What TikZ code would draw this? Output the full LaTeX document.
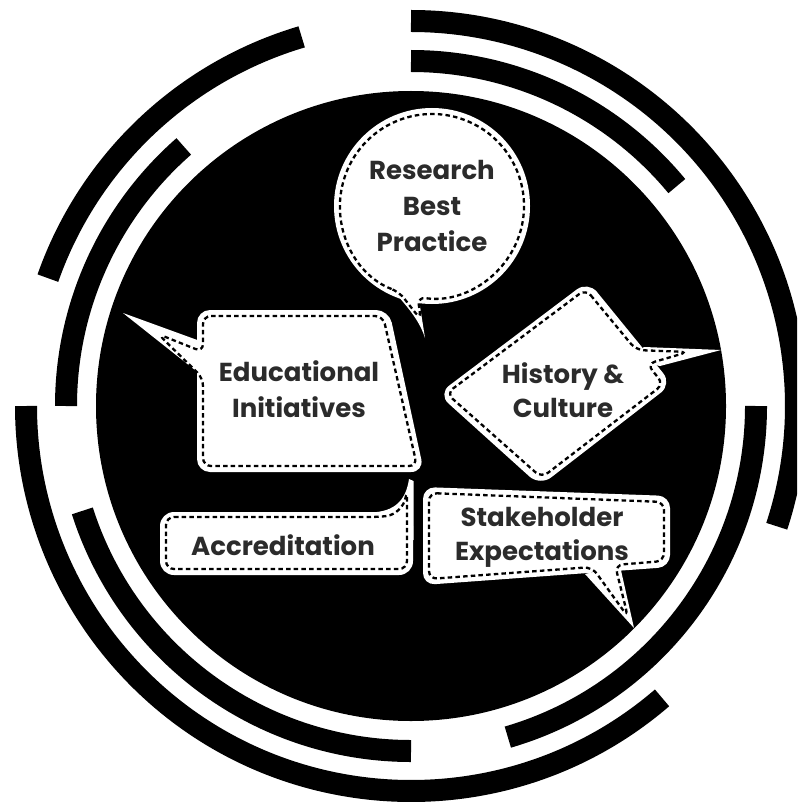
\documentclass[tikz,border=0pt]{standalone}
\usepackage{fontspec}
\setmainfont{Poppins}
\definecolor{txt}{HTML}{2B2B2B}
\tikzset{
  ringarc/.style={line width=22pt, line cap=butt, draw=black},
  bubblefill/.style={fill=white, draw=none},
  dashline/.style={draw=black, line width=2.3pt, dash pattern=on 4.5pt off 3.2pt, rounded corners=8pt},
  bubbletext/.style={font=\bfseries\fontsize{26}{36}\selectfont, text=txt, align=center, inner sep=0pt}
}
\begin{document}
\begin{tikzpicture}[x=1pt,y=-1pt]
\path[use as bounding box] (0,0) rectangle (797,802);
\clip (0,0) rectangle (797,802);
\fill[white] (0,0) rectangle (797,802);
\coordinate (c) at (411,406);
% central disk
\fill[black] (c) circle[radius=315];
% outer ring r=385
\draw[ringarc] (c) ++(270:385) arc[start angle=270, end angle=378.2, radius=385];
\draw[ringarc] (c) ++(199.4:385) arc[start angle=199.4, end angle=253.5, radius=385];
\draw[ringarc] (c) ++(49.3:385) arc[start angle=49.3, end angle=180, radius=385];
% inner ring r=345
\draw[ringarc] (c) ++(270:345) arc[start angle=270, end angle=320.4, radius=345];
\draw[ringarc] (c) ++(0:345) arc[start angle=0, end angle=73.7, radius=345];
\draw[ringarc] (c) ++(90:345) arc[start angle=90, end angle=162.3, radius=345];
\draw[ringarc] (c) ++(180:345) arc[start angle=180, end angle=228.8, radius=345];

% Research Best Practice bubble
\fill[bubblefill] (432,206) circle[radius=98];
\fill[bubblefill] (398,296) .. controls (410,310) and (420,322) .. (425,338) -- (419,300) -- cycle;
\draw[dashline] (432,206) ++(111:92) arc[start angle=111, end angle=459, radius=92] -- (421,320) -- cycle;
\node[bubbletext] (research) at (432,206) {Research\\Best\\Practice};

% Educational Initiatives bubble
\fill[bubblefill, rounded corners=13pt] (197,310) -- (389,310) -- (424,472) -- (197,472) -- cycle;
\fill[bubblefill] (123,313) -- (200,341) -- (200,374) -- cycle;
\draw[dashline] (203,316) -- (383,316) -- (417,466) -- (203,466) -- (203,378) -- (158,334) -- (203,352) -- cycle;
\node[bubbletext] (edu) at (299,389) {Educational\\Initiatives};

% History & Culture bubble
\fill[bubblefill, rounded corners=14pt] (588,281) -- (672,384) -- (540,486) -- (438,394) -- cycle;
\fill[bubblefill] (644,347) -- (721,350) -- (660,366) -- (630,360) -- cycle;
\draw[dashline] (585.7,289.2) -- (636,350) -- (688,352) -- (647,364) -- (663.5,384.2) -- (541.6,477.7) -- (446.5,393.4) -- cycle;
\node[bubbletext, font=\bfseries\fontsize{26}{34}\selectfont] (hist) at (563,390) {History \&\\Culture};

% Accreditation bubble
\fill[bubblefill, rounded corners=14pt] (160,512) rectangle (413,575);
\fill[bubblefill] (370,512.5) .. controls (395,512) and (406,500) .. (409,479) -- (413.5,481) -- (413.5,540) -- cycle;
\draw[dashline] (166,517) -- (378,517) .. controls (396,515) and (404,506) .. (407,490) -- (407,569) -- (166,569) -- cycle;
\node[bubbletext] (accr) at (283,545) {Accreditation};

% Stakeholder Expectations bubble
\fill[bubblefill, rounded corners=12pt] (423,487) -- (670,496) -- (670,567) -- (423,585) -- cycle;
\fill[bubblefill] (585,574) -- (634,628) -- (620,566) -- cycle;
\draw[dashline] (429,493) -- (664,502) -- (664,561) -- (615,565) -- (628,617) -- (592,567) -- (429,579) -- cycle;
\node[bubbletext, font=\bfseries\fontsize{26}{34}\selectfont] (stake) at (542,537) {Stakeholder\\Expectations};
\end{tikzpicture}
\end{document}
